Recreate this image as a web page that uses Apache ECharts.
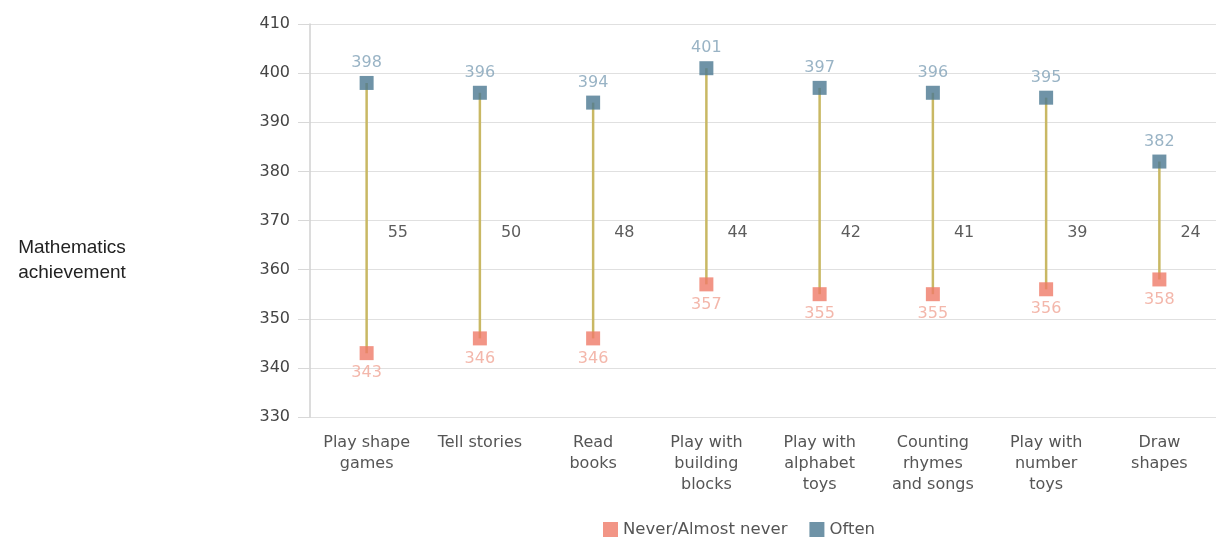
<!DOCTYPE html>
<html>
<head>
<meta charset="utf-8">
<script src="https://cdn.jsdelivr.net/npm/echarts@6/dist/echarts.min.js"></script>
<style>
  html, body { margin: 0; padding: 0; background: #fff; }
  #chart { width: 1216px; height: 538px; }
</style>
</head>
<body>
<div id="chart"></div>
<script>
var categories = ['Play shape\ngames', 'Tell stories', 'Read\nbooks', 'Play with\nbuilding\nblocks',
  'Play with\nalphabet\ntoys', 'Counting\nrhymes\nand songs', 'Play with\nnumber\ntoys', 'Draw\nshapes'];
var never = [343, 346, 346, 357, 355, 355, 356, 358];
var often = [398, 396, 394, 401, 397, 396, 395, 382];
var gaps = [55, 50, 48, 44, 42, 41, 39, 24];
var yTicks = [330, 340, 350, 360, 370, 380, 390, 400, 410];

document.addEventListener('DOMContentLoaded', function(){
  var font = 'DejaVu Sans';
  var chart = echarts.init(document.getElementById('chart'));
  var option = {
    animation: false,
    title: {
      text: 'Mathematics\nachievement',
      left: 67, top: 230, textAlign: 'center',
      textStyle: { fontFamily: 'Liberation Sans', fontSize: 19, fontWeight: 'normal', color: '#222', lineHeight: 25, align: 'center' }
    },
    legend: {
      top: 516, left: 598,
      itemWidth: 15, itemHeight: 15, itemGap: 22,
      textStyle: { fontFamily: font, fontSize: 16.5, color: '#555' },
      data: [{ name: 'Never/Almost never', icon: 'rect' }, { name: 'Often', icon: 'rect' }]
    },
    grid: { left: 310, right: 0, top: 24, bottom: 121 },
    xAxis: {
      type: 'category', data: categories,
      axisLine: { show: false }, axisTick: { show: false },
      axisLabel: { fontFamily: font, fontSize: 16, color: '#555', lineHeight: 21, margin: 15 }
    },
    yAxis: {
      type: 'value', min: yTicks[0], max: yTicks[yTicks.length - 1], interval: 10,
      axisLine: { show: true, lineStyle: { color: '#d0d0d0', width: 1.5 } },
      axisTick: { show: true, length: 12, lineStyle: { color: '#d8d8d8' } },
      splitLine: { lineStyle: { color: '#e0e0e0' } },
      axisLabel: { fontFamily: font, fontSize: 16, color: '#444', margin: 20 }
    },
    series: [
      {
        type: 'custom', name: 'gap', silent: true, z: 1,
        data: categories.map(function(c, i){ return [i, never[i], often[i]]; }),
        renderItem: function(params, api){
          var a = api.coord([api.value(0), api.value(1)]);
          var b = api.coord([api.value(0), api.value(2)]);
          return { type: 'line', shape: { x1: a[0], y1: a[1], x2: b[0], y2: b[1] },
            style: { stroke: '#c9b864', lineWidth: 2.5 } };
        }
      },
      {
        type: 'scatter', name: 'gapLabel', silent: true, symbolSize: 0,
        data: gaps.map(function(g, i){ return [i, 367.5]; }),
        label: { show: true, position: 'right', distance: 21,
          formatter: function(p){ return gaps[p.dataIndex]; },
          fontFamily: font, fontSize: 16, color: '#333' }
      },
      {
        type: 'scatter', name: 'Never/Almost never', symbol: 'rect', symbolSize: 14, z: 3,
        itemStyle: { color: '#ef7a68' },
        data: never,
        label: { show: true, position: 'bottom', distance: 5, fontFamily: font, fontSize: 16, color: '#f0a596' }
      },
      {
        type: 'scatter', name: 'Often', symbol: 'rect', symbolSize: 14, z: 3,
        itemStyle: { color: '#4b7891' },
        data: often,
        label: { show: true, position: 'top', distance: 5, fontFamily: font, fontSize: 16, color: '#7fa0b6' }
      }
    ]
  };
  chart.setOption(option);
});
</script>
</body>
</html>
